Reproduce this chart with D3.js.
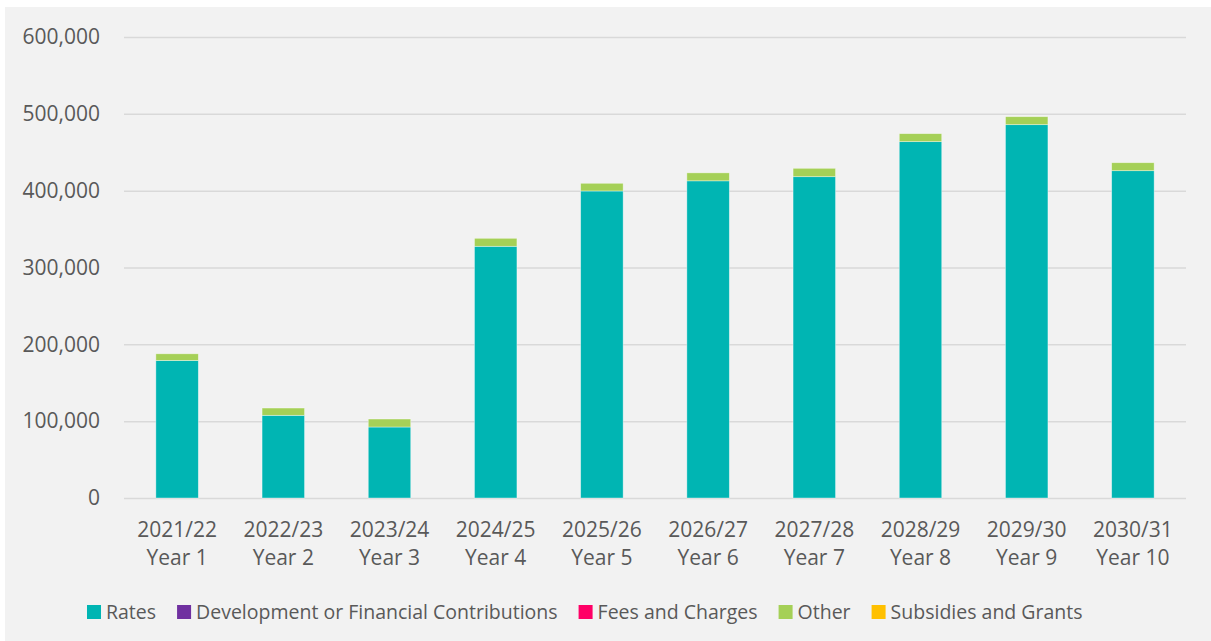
<!DOCTYPE html>
<html>
<head>
<meta charset="utf-8">
<script src="https://cdn.jsdelivr.net/npm/d3@7"></script>
<style>
  body { margin: 0; background: #fff; }
  text { font-family: "Open Sans", sans-serif; fill: #595959; }
</style>
</head>
<body>
<div id="chart"></div>
<script>
const years = ["2021/22", "2022/23", "2023/24", "2024/25", "2025/26", "2026/27", "2027/28", "2028/29", "2029/30", "2030/31"];
const yearLabels = ["Year 1", "Year 2", "Year 3", "Year 4", "Year 5", "Year 6", "Year 7", "Year 8", "Year 9", "Year 10"];

const seriesNames = ["Rates", "Development or Financial Contributions", "Fees and Charges", "Other", "Subsidies and Grants"];
const seriesColors = ["#00b5b3", "#7030a0", "#ff0066", "#a5d057", "#ffc000"];

const rates = [179000, 107600, 92400, 327600, 399600, 412800, 418200, 463800, 485900, 426000];
const devContrib = [0, 0, 0, 0, 0, 0, 0, 0, 0, 0];
const fees = [0, 0, 0, 0, 0, 0, 0, 0, 0, 0];
const other = [8700, 9500, 10400, 10400, 10000, 10400, 10900, 10400, 10400, 10400];
const subsidies = [0, 0, 0, 0, 0, 0, 0, 0, 0, 0];

const yTicks = [0, 100000, 200000, 300000, 400000, 500000, 600000];

const width = 1211, height = 641;

// build rows for the stack
const values = [rates, devContrib, fees, other, subsidies];
const rows = years.map((yr, i) => {
	const r = {year: yr};
	seriesNames.forEach((s, j) => r[s] = values[j][i]);
	return r;
});

const svg = d3.select("#chart")
	.append("svg")
		.attr("width", width)
		.attr("height", height);

// chart area background
svg.append("rect")
	.attr("x", 5).attr("y", 7)
	.attr("width", width - 5).attr("height", height - 7)
	.attr("fill", "#f2f2f2");

const x = d3.scaleBand()
	.domain(years)
	.range([124, 1186])
	.paddingInner(0.6)
	.paddingOuter(0.3);

const y = d3.scaleLinear()
	.domain([0, 600000])
	.range([498, 37]);

// gridlines + y labels
const yAxis = svg.append("g")
	.attr("transform", "translate(124,0)")
	.call(d3.axisLeft(y).tickValues(yTicks).tickFormat(d3.format(",")).tickSize(-1062).tickPadding(24));
yAxis.select(".domain").remove();
yAxis.selectAll("line").attr("stroke", "#d9d9d9").attr("stroke-width", 1.5);
yAxis.selectAll("text")
	.attr("font-size", 21)
	.attr("fill", "#595959")
	.style("font-family", "'Open Sans', sans-serif");

// stacked bars
const stacked = d3.stack().keys(seriesNames)(rows);

svg.append("g")
	.selectAll("g")
	.data(stacked)
	.join("g")
		.attr("fill", (d, i) => seriesColors[i])
	.selectAll("rect")
	.data(d => d.filter(p => p[1] - p[0] > 0))
	.join("rect")
		.attr("x", d => x(d.data.year))
		.attr("y", d => y(d[1]))
		.attr("width", x.bandwidth())
		.attr("height", d => y(d[0]) - y(d[1]))
		.attr("stroke", "#ffffff")
		.attr("stroke-opacity", 0.5)
		.attr("stroke-width", 0.75);

// x labels (two lines)
const xl = svg.append("g").selectAll("text")
	.data(years)
	.join("text")
		.attr("x", d => x(d) + x.bandwidth() / 2)
		.attr("y", 537)
		.attr("text-anchor", "middle")
		.attr("font-size", 21);
xl.append("tspan").text(d => d);
xl.append("tspan")
	.attr("x", d => x(d) + x.bandwidth() / 2)
	.attr("dy", 28)
	.text((d, i) => yearLabels[i]);

// legend
const legend = svg.append("g");
let lx = 87;
seriesNames.forEach((name, i) => {
	legend.append("rect")
		.attr("x", lx).attr("y", 605)
		.attr("width", 14).attr("height", 14)
		.attr("fill", seriesColors[i]);
	const t = legend.append("text")
		.attr("x", lx + 19)
		.attr("y", 619)
		.attr("font-size", 19.5)
		.text(name);
	lx += 19 + t.node().getComputedTextLength() + 21;
});
</script>
</body>
</html>
